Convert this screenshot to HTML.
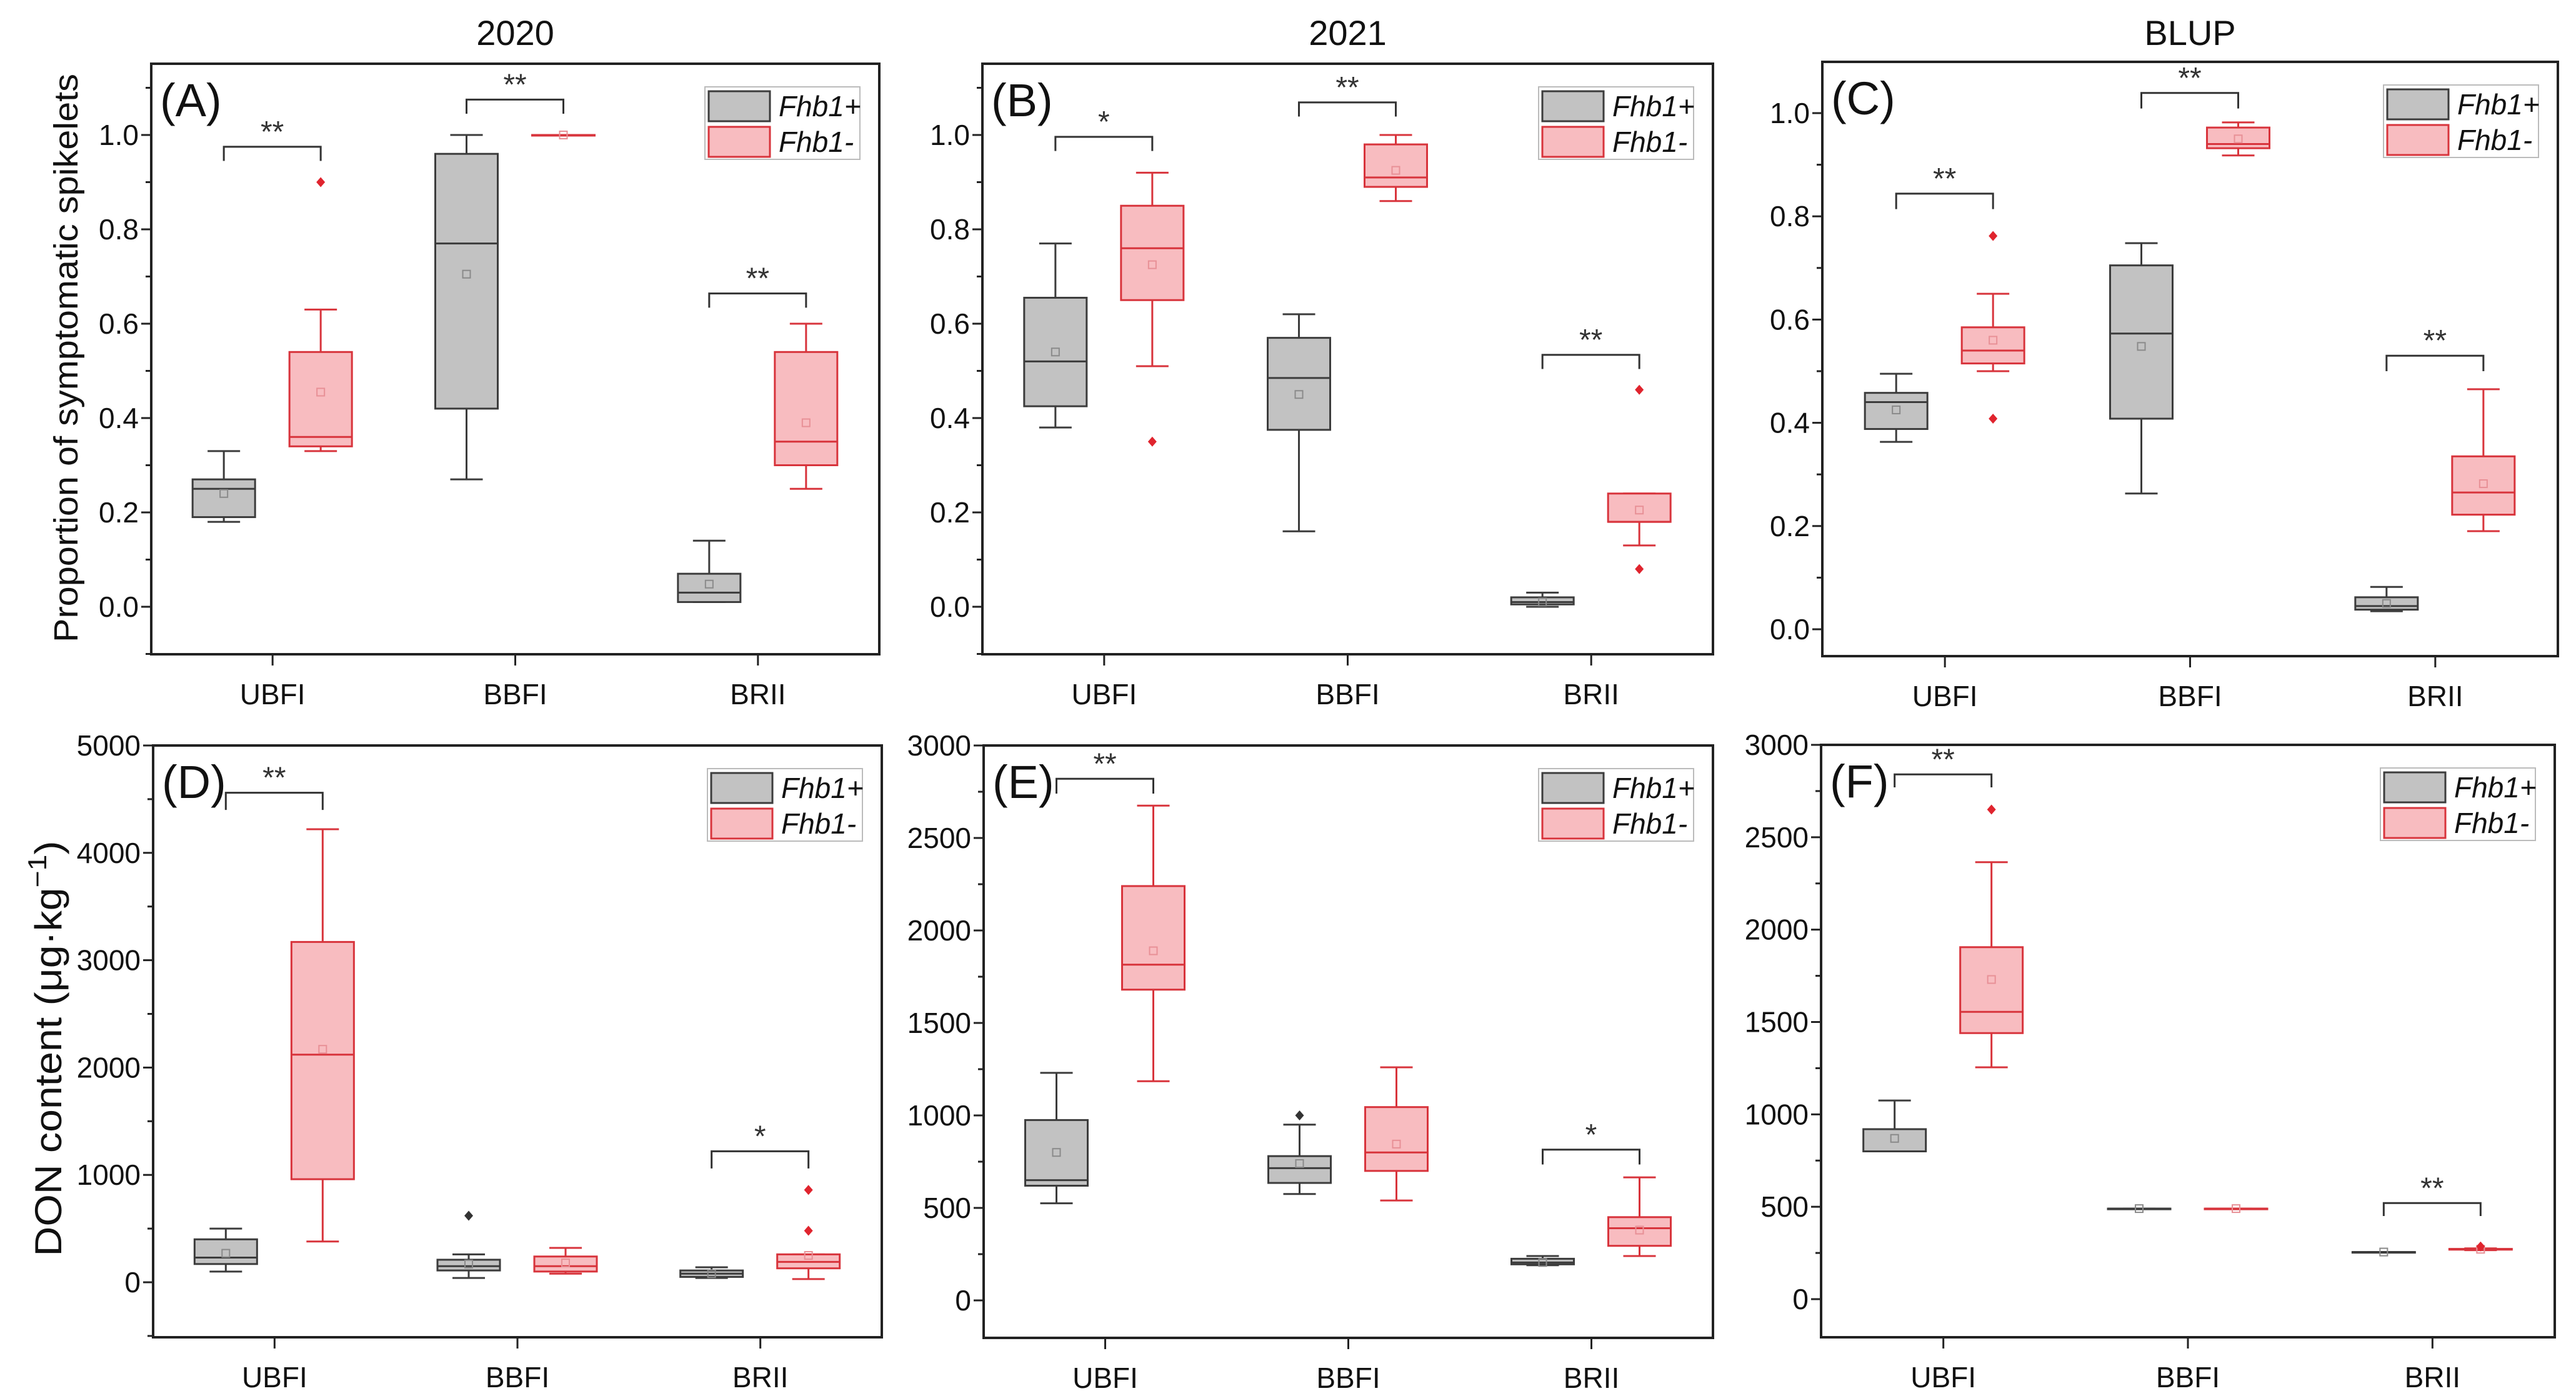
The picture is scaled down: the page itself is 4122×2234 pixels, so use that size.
<!DOCTYPE html>
<html><head><meta charset="utf-8"><style>
html,body{margin:0;padding:0;background:#fff;}
svg{display:block;font-family:"Liberation Sans",Arial,sans-serif;}
</style></head><body>
<svg id="fig" width="4122" height="2234" viewBox="0 0 4122 2234" xmlns="http://www.w3.org/2000/svg"></svg>
<script>
// categories
const categories = ["UBFI","BBFI","BRII"];
// stats: [min, q1, median, q3, max, mean]
const aGray = [[0.18,0.19,0.25,0.27,0.33,0.24],[0.27,0.42,0.77,0.96,1.0,0.705],[0.01,0.01,0.03,0.07,0.14,0.048]];
const aRed  = [[0.33,0.34,0.36,0.54,0.63,0.455],[1.0,1.0,1.0,1.0,1.0,1.0],[0.25,0.30,0.35,0.54,0.60,0.39]];
const aGrayOut = [[],[],[]];
const aRedOut  = [[0.9],[],[]];
const aSig = ["**","**","**"];
const aSigY = [0.975,1.075,0.664];

const bGray = [[0.38,0.425,0.52,0.655,0.77,0.54],[0.16,0.375,0.485,0.57,0.62,0.45],[0.0,0.005,0.01,0.02,0.03,0.01]];
const bRed  = [[0.51,0.65,0.76,0.85,0.92,0.725],[0.86,0.89,0.91,0.98,1.0,0.925],[0.13,0.18,0.18,0.24,0.24,0.205]];
const bGrayOut = [[],[],[]];
const bRedOut  = [[0.35],[],[0.46,0.08]];
const bSig = ["*","**","**"];
const bSigY = [0.996,1.069,0.534];

const cGray = [[0.363,0.388,0.44,0.458,0.495,0.425],[0.263,0.408,0.573,0.705,0.748,0.548],[0.035,0.038,0.045,0.062,0.082,0.05]];
const cRed  = [[0.50,0.515,0.54,0.585,0.65,0.56],[0.918,0.932,0.94,0.972,0.982,0.95],[0.19,0.222,0.265,0.335,0.465,0.282]];
const cGrayOut = [[],[],[]];
const cRedOut  = [[0.762,0.408],[],[]];
const cSig = ["**","**","**"];
const cSigY = [0.844,1.039,0.53];

const dGray = [[100,170,230,400,500,270],[40,110,150,210,260,170],[40,50,80,110,140,80]];
const dRed  = [[380,960,2120,3170,4220,2170],[80,100,150,240,320,180],[30,130,190,260,260,250]];
const dGrayOut = [[],[620],[]];
const dRedOut  = [[],[],[860,480]];
const dSig = ["**",null,"*"];
const dSigY = [4560,null,1220];

const eGray = [[525,620,650,975,1230,800],[575,635,715,780,950,740],[190,195,205,225,240,205]];
const eRed  = [[1185,1680,1815,2240,2675,1890],[540,700,800,1045,1260,845],[240,295,390,450,665,380]];
const eGrayOut = [[],[1000],[]];
const eRedOut  = [[],[],[]];
const eSig = ["**",null,"*"];
const eSigY = [2820,null,815];

const fGray = [[800,800,800,920,1075,870],[490,490,490,490,490,490],[255,255,255,255,255,255]];
const fRed  = [[1255,1440,1555,1905,2365,1730],[490,490,490,490,490,490],[265,268,270,272,275,270]];
const fGrayOut = [[],[],[]];
const fRedOut  = [[2650],[],[285]];
const fSig = ["**",null,"**"];
const fSigY = [2840,null,520];

// tick values
const topTicks = [0,0.2,0.4,0.6,0.8,1.0];
const topMinor = [-0.1,0.1,0.3,0.5,0.7,0.9,1.1];
const dTicks = [0,1000,2000,3000,4000,5000];
const dMinor = [-500,500,1500,2500,3500,4500];
const efTicks = [0,500,1000,1500,2000,2500,3000];
const efMinor = [-250,250,750,1250,1750,2250,2750];

const NS="http://www.w3.org/2000/svg";
const svg=document.getElementById('fig');
function mk(tag,attrs,parent){const e=document.createElementNS(NS,tag);for(const k in attrs)e.setAttribute(k,attrs[k]);(parent||svg).appendChild(e);return e;}

const panels=[
 {id:"A",title:"2020",x0:242,x1:1407,yT:102,yB:1047,p0:971,p1:216,v1:1,gray:aGray,red:aRed,go:aGrayOut,ro:aRedOut,sig:aSig,sigY:aSigY,ticks:topTicks,minor:topMinor,fmt:v=>v.toFixed(1),ylab:"Proportion of symptomatic spikelets",legH:0.035},
 {id:"B",title:"2021",x0:1572,x1:2741,yT:102,yB:1047,p0:971,p1:216,v1:1,gray:bGray,red:bRed,go:bGrayOut,ro:bRedOut,sig:bSig,sigY:bSigY,ticks:topTicks,minor:topMinor,fmt:v=>v.toFixed(1),legH:0.035},
 {id:"C",title:"BLUP",x0:2916,x1:4093,yT:99,yB:1050,p0:1007,p1:181,v1:1,gray:cGray,red:cRed,go:cGrayOut,ro:cRedOut,sig:cSig,sigY:cSigY,ticks:topTicks,minor:[0.1,0.3,0.5,0.7,0.9],fmt:v=>v.toFixed(1),legH:0.035},
 {id:"D",x0:245,x1:1411,yT:1193,yB:2140,p0:2052,p1:1193,v1:5000,gray:dGray,red:dRed,go:dGrayOut,ro:dRedOut,sig:dSig,sigY:dSigY,ticks:dTicks,minor:dMinor,fmt:v=>String(v),ylab:"DON",legH:160},
 {id:"E",x0:1574,x1:2741,yT:1193,yB:2141,p0:2081,p1:1193,v1:3000,gray:eGray,red:eRed,go:eGrayOut,ro:eRedOut,sig:eSig,sigY:eSigY,ticks:efTicks,minor:efMinor,fmt:v=>String(v),legH:80},
 {id:"F",x0:2914,x1:4088,yT:1192,yB:2140,p0:2079,p1:1192,v1:3000,gray:fGray,red:fRed,go:fGrayOut,ro:fRedOut,sig:fSig,sigY:fSigY,ticks:efTicks,minor:efMinor,fmt:v=>String(v),legH:70}
];
const GRAY={fill:"#c2c2c2",stroke:"#3c3c3c"}, RED={fill:"#f8bcc0",stroke:"#d8343c"};

panels.forEach(P=>{
 const g=mk('g',{});
 
 
 const y=v=>P.p0+(P.p1-P.p0)*v/P.v1;
 const w=P.x1-P.x0;
 const cx=i=>P.x0+w*(i+0.5)/3;
 if(P.title){const t=mk('text',{x:(P.x0+P.x1)/2,y:72,'font-size':56,'text-anchor':'middle',fill:'#111'},g);t.textContent=P.title;
  }
 const fr=mk('rect',{x:P.x0,y:P.yT,width:w,height:P.yB-P.yT,fill:'none',stroke:'#222','stroke-width':4},g);
 
 P.ticks.forEach(v=>{
  const yy=y(v);
  mk('line',{x1:P.x0-16,x2:P.x0,y1:yy,y2:yy,stroke:'#222','stroke-width':3},g);
  const t=mk('text',{x:P.x0-20,y:yy+16,'font-size':46,'text-anchor':'end',fill:'#111'},g);
  t.textContent=P.fmt(v);
  
 });
 P.minor.forEach(v=>{const yy=y(v);if(yy<P.yT||yy>P.yB)return;mk('line',{x1:P.x0-9,x2:P.x0,y1:yy,y2:yy,stroke:'#222','stroke-width':3},g);});
 categories.forEach((c,i)=>{
  mk('line',{x1:cx(i),x2:cx(i),y1:P.yB,y2:P.yB+18,stroke:'#222','stroke-width':3},g);
  const t=mk('text',{x:cx(i),y:P.yB+80,'font-size':46,'text-anchor':'middle',fill:'#111'},g);
  t.textContent=c;
  
 });
 function box(s,xc,col,outs,name){
  const bg=mk('g',{},g);
  
  const [mn,q1,md,q3,mx,mean]=s;
  mk('line',{x1:xc,x2:xc,y1:y(mx),y2:y(q3),stroke:col.stroke,'stroke-width':3},bg);
  mk('line',{x1:xc,x2:xc,y1:y(q1),y2:y(mn),stroke:col.stroke,'stroke-width':3},bg);
  mk('line',{x1:xc-26,x2:xc+26,y1:y(mx),y2:y(mx),stroke:col.stroke,'stroke-width':3},bg);
  mk('line',{x1:xc-26,x2:xc+26,y1:y(mn),y2:y(mn),stroke:col.stroke,'stroke-width':3},bg);
  mk('rect',{x:xc-50,y:y(q3),width:100,height:Math.max(1,y(q1)-y(q3)),fill:col.fill,stroke:col.stroke,'stroke-width':3},bg);
  mk('line',{x1:xc-50,x2:xc+50,y1:y(md),y2:y(md),stroke:col.stroke,'stroke-width':3},bg);
  mk('rect',{x:xc-6,y:y(mean)-6,width:12,height:12,fill:'none',stroke:col===RED?'#e89096':'#8a8a8a','stroke-width':2},bg);
  outs.forEach(o=>{const yy=y(o);mk('path',{d:`M${xc} ${yy-8}L${xc+7} ${yy}L${xc} ${yy+8}L${xc-7} ${yy}Z`,fill:col===RED?'#e0242e':'#333'},bg);});
 }
 categories.forEach((c,i)=>{
  box(P.gray[i],cx(i)-78,GRAY,P.go[i],'box-fhb1-plus-'+c.toLowerCase());
  box(P.red[i],cx(i)+77,RED,P.ro[i],'box-fhb1-minus-'+c.toLowerCase());
  if(P.sig[i]){
   const sy=y(P.sigY[i]), leg=(P.v1===1?0.03:P.legH)*(P.p0-P.p1)/P.v1;
   const xa=cx(i)-78,xb=cx(i)+77;
   const br=mk('path',{d:`M${xa} ${sy+leg}V${sy}H${xb}V${sy+leg}`,fill:'none',stroke:'#333','stroke-width':3},g);
   
   const t=mk('text',{x:(xa+xb)/2,y:sy-8,'font-size':48,'text-anchor':'middle',fill:'#333'},g);
   t.textContent=P.sig[i];
   
  }
 });
 const pl=mk('text',{x:P.x0+14,y:P.yT+84,'font-size':74,fill:'#111'},g);
 pl.textContent='('+P.id+')';
 
 const lx=P.x1-279,ly=P.yT+37;
 const lg=mk('g',{},g);
 
 mk('rect',{x:lx,y:ly,width:248,height:116,fill:'#fff',stroke:'#bbb','stroke-width':2},lg);
 [[GRAY,'Fhb1+'],[RED,'Fhb1-']].forEach(([col,lab],k)=>{
  const ry=ly+7+k*57;
  mk('rect',{x:lx+6,y:ry,width:98,height:48,fill:col.fill,stroke:col.stroke,'stroke-width':3},lg);
  const t=mk('text',{x:lx+118,y:ry+40,'font-size':46,'font-style':'italic',fill:'#111'},lg);
  t.textContent=lab;
  
 });
 if(P.ylab==="DON"){
  const t=mk('text',{x:0,y:0,'font-size':60,'text-anchor':'middle',fill:'#111',transform:`translate(98 1678) rotate(-90)`,textLength:665,lengthAdjust:'spacingAndGlyphs'},g);
  t.innerHTML='DON content (μg·kg<tspan dy="-24" font-size="42">−1</tspan><tspan dy="24">)</tspan>';
  
 } else if(P.ylab){
  const t=mk('text',{x:0,y:0,'font-size':54,'text-anchor':'middle',fill:'#111',transform:`translate(124 573) rotate(-90)`,textLength:910,lengthAdjust:'spacingAndGlyphs'},g);
  t.textContent=P.ylab;
  
 }
});
</script>
</body></html>
